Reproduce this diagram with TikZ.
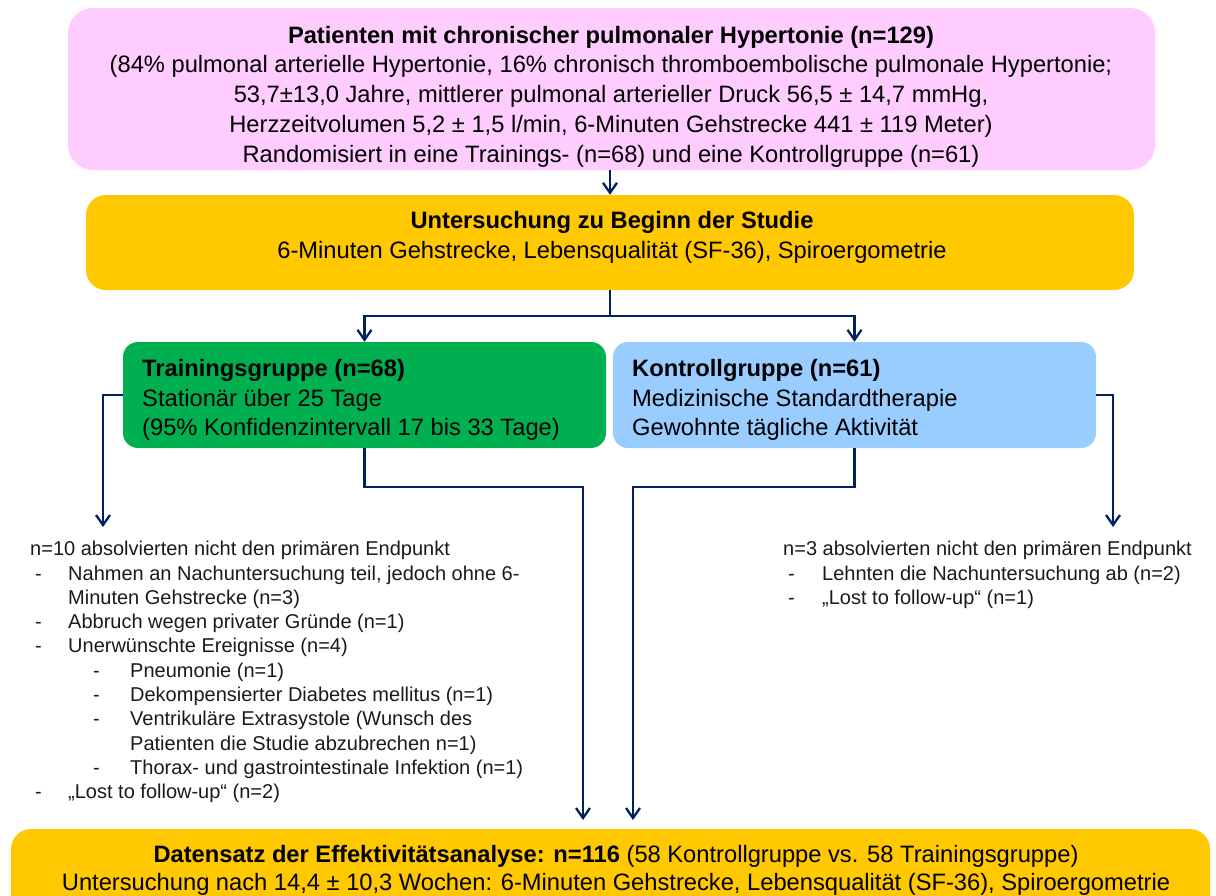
\documentclass[tikz,border=0pt]{standalone}
\usepackage{fontspec}
\setmainfont{Liberation Sans}
\usetikzlibrary{arrows.meta}
\definecolor{pinkbox}{HTML}{FFCCFF}
\definecolor{goldbox}{HTML}{FFC800}
\definecolor{greenbox}{HTML}{00B050}
\definecolor{bluebox}{HTML}{99CCFF}
\definecolor{navy}{HTML}{002060}
\definecolor{txt}{HTML}{1A1A1A}
\begin{document}
\begin{tikzpicture}[x=1pt,y=-1pt,
  box/.style={rectangle, inner sep=0pt},
  boxtxt/.style={inner sep=0pt, font=\fontsize{23.7}{29.7}\selectfont, text=black},
  conn/.style={draw=navy, line width=2.3pt, -{Straight Barb[length=10pt,width=14pt]}},
  listtxt/.style={anchor=north west, inner sep=0pt, align=left, font=\fontsize{20}{24.3}\selectfont, text=txt}]
\useasboundingbox (0,0) rectangle (1216,895);
% boxes
\node[box, fill=pinkbox, rounded corners=25pt, minimum width=1087pt, minimum height=162pt] (top) at (611.5,89) {};
\node[box, fill=goldbox, rounded corners=20pt, minimum width=1048pt, minimum height=95pt] (base) at (610,242.5) {};
\node[box, fill=greenbox, rounded corners=15pt, minimum width=483pt, minimum height=106pt] (train) at (364.5,395) {};
\node[box, fill=bluebox, rounded corners=15pt, minimum width=483pt, minimum height=106pt] (ctrl) at (854.5,395) {};
\node[box, fill=goldbox, rounded corners=20pt, minimum width=1199pt, minimum height=90pt] (final) at (610.5,874) {};
% box texts
\node[boxtxt, align=center] (toptext) at (611,96.5) {\textbf{Patienten mit chronischer pulmonaler Hypertonie (n=129)}\\
(84\% pulmonal arterielle Hypertonie, 16\% chronisch thromboembolische pulmonale Hypertonie;\\
53,7±13,0 Jahre, mittlerer pulmonal arterieller Druck 56,5 ± 14,7 mmHg,\\
Herzzeitvolumen 5,2 ± 1,5 l/min, 6-Minuten Gehstrecke 441 ± 119 Meter)\\
Randomisiert in eine Trainings- (n=68) und eine Kontrollgruppe (n=61)};
\node[boxtxt, align=center] (basetext) at (612,237.5) {\textbf{Untersuchung zu Beginn der Studie}\\
6-Minuten Gehstrecke, Lebensqualität (SF-36), Spiroergometrie};
\node[boxtxt, align=left, anchor=west] (traintext) at (142,400) {\textbf{Trainingsgruppe (n=68)}\\
Stationär über 25 Tage\\
(95\% Konfidenzintervall 17 bis 33 Tage)};
\node[boxtxt, align=left, anchor=west] (ctrltext) at (632,400) {\textbf{Kontrollgruppe (n=61)}\\
Medizinische Standardtherapie\\
Gewohnte tägliche Aktivität};
\node[boxtxt, align=center, font=\fontsize{23.7}{28.5}\selectfont] (finaltext) at (616,870.5) {\textbf{Datensatz der Effektivitätsanalyse: n=116} (58 Kontrollgruppe vs. 58 Trainingsgruppe)\\
Untersuchung nach 14,4 ± 10,3 Wochen: 6-Minuten Gehstrecke, Lebensqualität (SF-36), Spiroergometrie};
% drop-out lists
\node[listtxt] (lnote) at (30,541) {n=10 absolvierten nicht den primären Endpunkt\\
\hspace*{5pt}\makebox[33pt][l]{-}Nahmen an Nachuntersuchung teil, jedoch ohne 6-\\
\hspace*{38pt}Minuten Gehstrecke (n=3)\\
\hspace*{5pt}\makebox[33pt][l]{-}Abbruch wegen privater Gründe (n=1)\\
\hspace*{5pt}\makebox[33pt][l]{-}Unerwünschte Ereignisse (n=4)\\
\hspace*{63pt}\makebox[37pt][l]{-}Pneumonie (n=1)\\
\hspace*{63pt}\makebox[37pt][l]{-}Dekompensierter Diabetes mellitus (n=1)\\
\hspace*{63pt}\makebox[37pt][l]{-}Ventrikuläre Extrasystole (Wunsch des\\
\hspace*{100pt}Patienten die Studie abzubrechen n=1)\\
\hspace*{63pt}\makebox[37pt][l]{-}Thorax- und gastrointestinale Infektion (n=1)\\
\hspace*{5pt}\makebox[33pt][l]{-}„Lost to follow-up“ (n=2)};
\node[listtxt] (rnote) at (783,541) {n=3 absolvierten nicht den primären Endpunkt\\
\hspace*{5pt}\makebox[34pt][l]{-}Lehnten die Nachuntersuchung ab (n=2)\\
\hspace*{5pt}\makebox[34pt][l]{-}„Lost to follow-up“ (n=1)};
% connector end points
\coordinate (ldrop) at (103,527);
\coordinate (rdrop) at (1113,527);
\coordinate (tin) at (583,820);
\coordinate (cin) at (633,820);
% connectors
\draw[conn] (top.south -| base.north) -- (base.north);
\draw[conn] (base.south) -- ++(0,26) -| (train.north);
\draw[conn] (base.south) -- ++(0,26) -| (ctrl.north);
\draw[conn] (train.west) -| (ldrop);
\draw[conn] (ctrl.east) -| (rdrop);
\draw[conn] (train.south) -- ++(0,39) -| (tin);
\draw[conn] (ctrl.south) -- ++(0,39) -| (cin);
\end{tikzpicture}
\end{document}
